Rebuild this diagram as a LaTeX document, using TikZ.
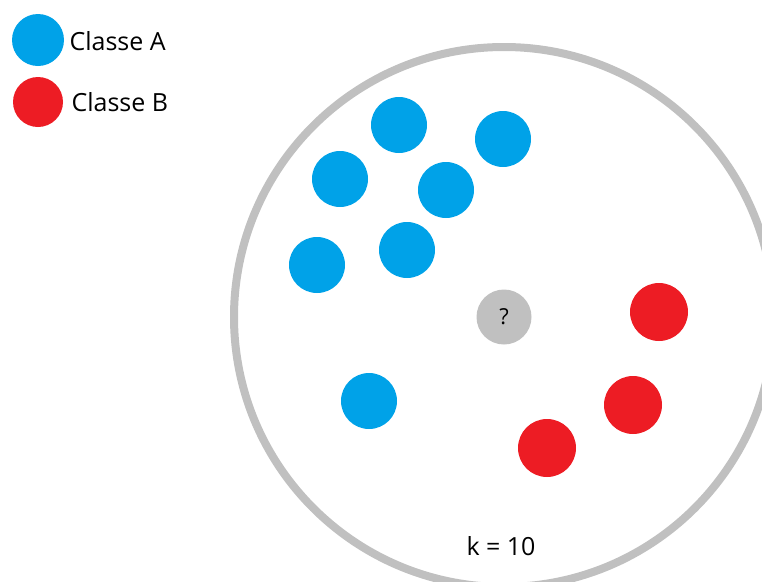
\documentclass[tikz,border=0pt]{standalone}
\usepackage{fontspec}
\setmainfont{Open Sans}
\definecolor{classA}{HTML}{00A2E8}
\definecolor{classB}{HTML}{ED1C24}
\definecolor{ringgray}{HTML}{C0C0C0}
\begin{document}
\begin{tikzpicture}[x=1pt,y=-1pt,
  dotA/.style={circle,fill=classA,minimum size=56pt,inner sep=0pt},
  dotB/.style={circle,fill=classB,minimum size=58pt,inner sep=0pt},
  legendtext/.style={anchor=west,font=\fontsize{25}{30}\selectfont}]
  \useasboundingbox (0,0) rectangle (762,581);
  % legend
  \node[dotA,minimum size=52pt] (keyA) at (38,40) {};
  \node[dotB,minimum size=50pt] (keyB) at (38,102) {};
  \node[legendtext] (txtA) at (66,41) {Classe A};
  \node[legendtext] (txtB) at (68,102) {Classe B};
  % point to classify and its neighbourhood
  \node[circle,fill=ringgray,minimum size=55pt,inner sep=0pt,
        font=\fontsize{22}{26}\selectfont] (query) at (504,317) {?};
  \draw[ringgray,line width=8pt] (query.center) circle (270);
  \node[font=\fontsize{25}{30}\selectfont] (kval) at (501,546) {k = 10};
  % class A
  \node[dotA] (a1) at (399,125) {};
  \node[dotA] (a2) at (503,139) {};
  \node[dotA] (a3) at (340,179) {};
  \node[dotA] (a4) at (446,190) {};
  \node[dotA] (a5) at (317,265) {};
  \node[dotA] (a6) at (407,250) {};
  \node[dotA] (a7) at (369,401) {};
  % class B
  \node[dotB] (b1) at (659,312) {};
  \node[dotB] (b2) at (633,405) {};
  \node[dotB] (b3) at (547,448) {};
\end{tikzpicture}
\end{document}
